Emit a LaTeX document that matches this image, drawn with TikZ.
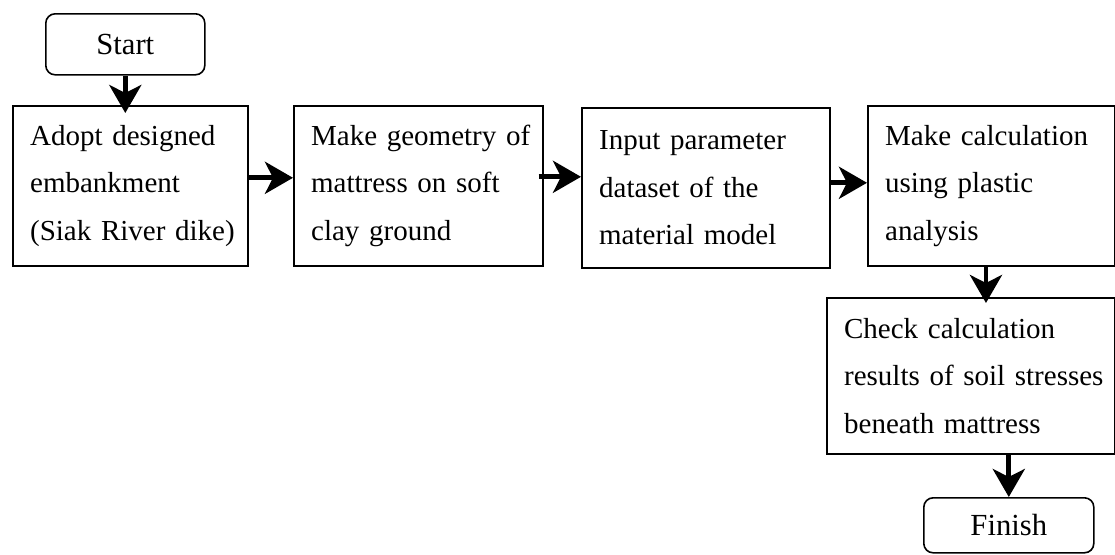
\documentclass[tikz,border=0pt]{standalone}
\usepackage{fontspec}
\setmainfont{Liberation Serif}
\usetikzlibrary{arrows.meta}
\begin{document}
\begin{tikzpicture}[x=0.75pt,y=-0.75pt,
  every node/.style={font=\fontsize{21.75}{35.5}\selectfont},
  stepbox/.style={draw=black,line width=1.2pt,rectangle,anchor=north west,align=left,inner xsep=13pt,inner ysep=0pt},
  termbox/.style={draw=black,line width=1.2pt,rectangle,rounded corners=7pt,anchor=north west,inner sep=0pt,font=\fontsize{23}{28}\selectfont},
  flow/.style={line width=3.6pt,-{Stealth[length=21pt,width=24pt,inset=6pt]}}
]
\useasboundingbox (0,0) rectangle (1115,554);
\node[termbox,minimum width=119.25pt,minimum height=45.75pt] (start) at (45,13) {Start};
\node[stepbox,minimum width=176.25pt,minimum height=120pt,text width=150.25pt] (b1) at (12,105) {\mbox{Adopt designed}\\\mbox{embankment}\\\mbox{(Siak River dike)}};
\node[stepbox,minimum width=186.75pt,minimum height=120pt,text width=160.75pt] (b2) at (293,105) {\mbox{Make geometry of}\\\mbox{mattress on soft}\\\mbox{clay ground}};
\node[stepbox,minimum width=186pt,minimum height=120pt,text width=160pt] (b3) at (581,107) {\mbox{Input parameter}\\\mbox{dataset of the}\\\mbox{material model}};
\node[stepbox,minimum width=185.25pt,minimum height=120pt,text width=159.25pt] (b4) at (867,105) {\mbox{Make calculation}\\\mbox{using plastic}\\\mbox{analysis}};
\node[stepbox,minimum width=216pt,minimum height=117pt,text width=190pt] (b5) at (826,297) {\mbox{Check calculation}\\\mbox{results of soil stresses}\\\mbox{beneath mattress}};
\node[termbox,minimum width=127.5pt,minimum height=41.25pt] (fin) at (923,497) {Finish};
\draw[flow,shorten >=-6pt] (start.south) -- (start.south |- b1.north);
\draw[flow] ([yshift=6pt]b1.east) -- ([yshift=6pt]b1.east -| b2.west);
\draw[flow] ([xshift=-3.75pt,yshift=6.75pt]b2.east) -- ([yshift=6.75pt]b2.east -| b3.west);
\draw[flow] ([yshift=3.75pt]b3.east) -- ([yshift=3.75pt]b3.east -| b4.west);
\draw[flow,shorten >=-4.5pt] ([xshift=-4pt]b4.south) -- ([xshift=-4pt]b4.south |- b5.north);
\draw[flow] (fin.north |- b5.south) -- (fin.north);
\end{tikzpicture}
\end{document}
